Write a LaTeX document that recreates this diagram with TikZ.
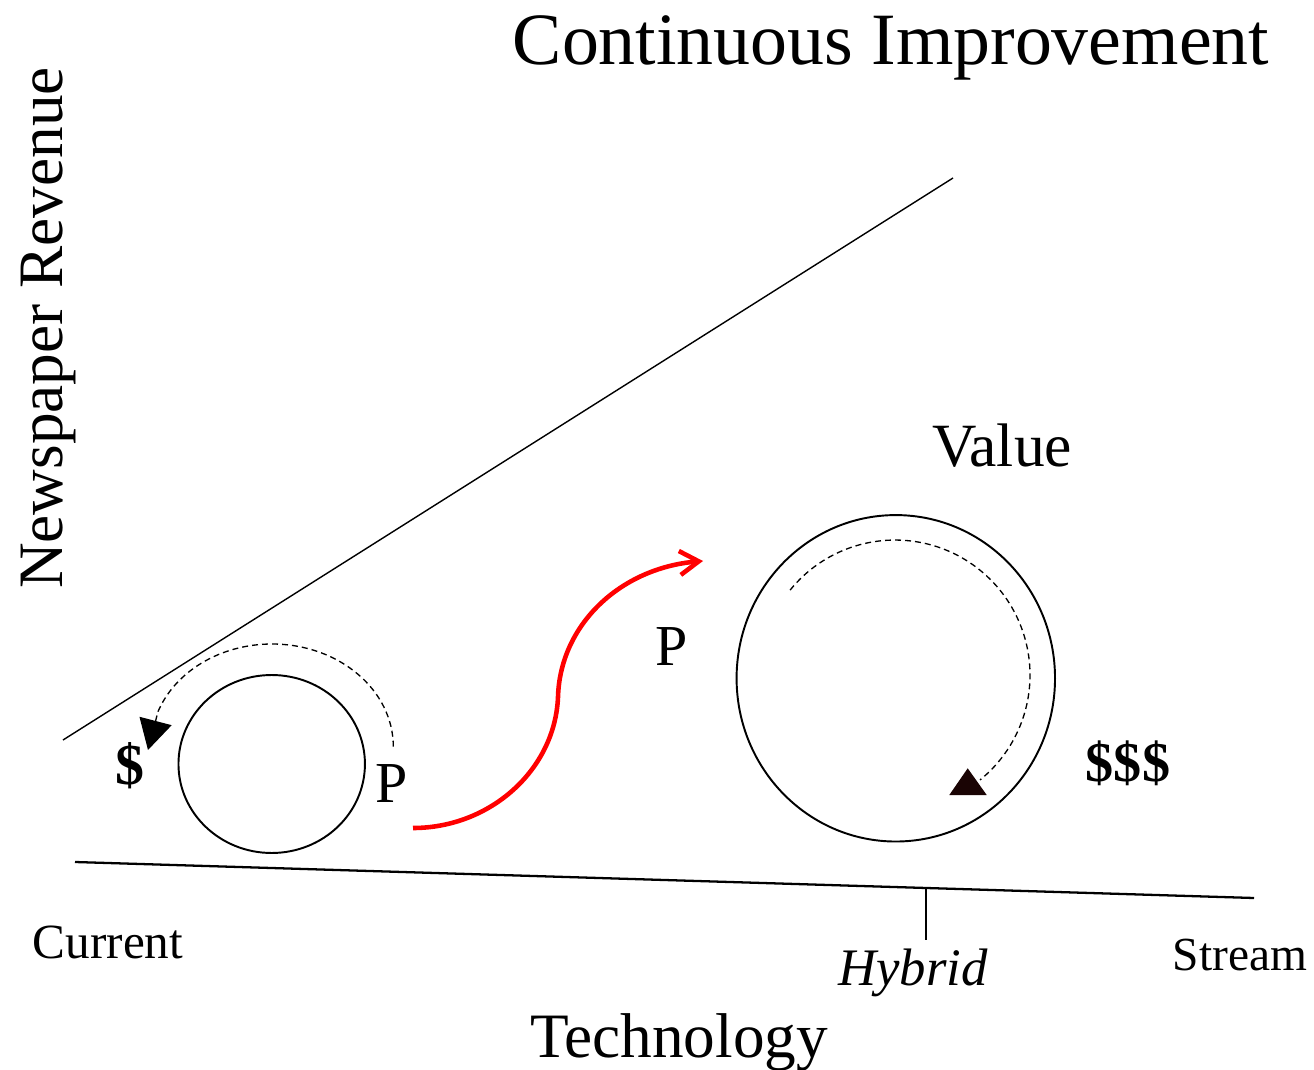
\documentclass[tikz,border=0pt]{standalone}
\usepackage{fontspec}
\setmainfont{Liberation Serif}
\usepackage{tikz}
\usetikzlibrary{arrows.meta,shapes.geometric}
\definecolor{tipdark}{RGB}{26,4,4}

\begin{document}
\begin{tikzpicture}[x=0.02cm,y=-0.02cm,
  ring/.style={ellipse,draw,line width=1.1pt,inner sep=0pt,outer sep=0pt},
  loopline/.style={dash pattern=on 3.4pt off 2.3pt,line width=0.75pt},
  lab/.style={inner sep=0pt,anchor=base},
  lab-huge/.style={lab,font=\fontsize{42}{46}\selectfont},
  lab-big/.style={lab,font=\fontsize{36}{40}\selectfont},
  lab-mid/.style={lab,font=\fontsize{33}{37}\selectfont},
  lab-small/.style={lab,font=\fontsize{28}{32}\selectfont},
  cash/.style={inner sep=0pt,font=\fontsize{33}{37}\selectfont\bfseries}]
\useasboundingbox (0,0) rectangle (1314,1070);
\node[lab-huge] (title) at (891,65) {Continuous Improvement};
\node[lab-big,rotate=90] (y-label) at (62,328) {Newspaper Revenue};
\node[lab-big] (x-label) at (679,1057) {Technology};
\node[lab-small] (x-current) at (108,958) {Current};
\node[lab-small,font=\fontsize{30}{34}\selectfont\itshape] (x-hybrid) at (913,985) {Hybrid};
\node[lab-small,font=\fontsize{27}{31}\selectfont] (x-stream) at (1240,970) {Stream};
\node[lab-mid,font=\fontsize{35}{39}\selectfont] (value) at (1002,467) {Value};
\coordinate (rise-a) at (63,740);
\coordinate (rise-b) at (953,178);
\coordinate (base-a) at (75,862);
\coordinate (base-b) at (1254,898);
\coordinate (tick-a) at (926,888);
\coordinate (tick-b) at (926,940);
\draw[line width=0.8pt] (rise-a) -- (rise-b);
\draw[line width=1.3pt] (base-a) -- (base-b);
\draw[line width=0.7pt] (tick-a) -- (tick-b);
\node[ring,minimum width=3.73cm,minimum height=3.56cm] (ring-small) at (271.7,764) {};
\node[ring,minimum width=6.37cm,minimum height=6.53cm] (ring-big) at (895.8,678.3) {};
\node[lab-mid] (p-small) at (392,802) {P};
\node[lab-mid] (p-big) at (672,665) {P};
\node[cash] (cash-small) at (130,766) {\$};
\node[cash,font=\fontsize{32}{36}\selectfont\bfseries] (cash-big) at (1128,763) {\$\$\$};
\coordinate (loop-small) at (393.3,746.7);
\coordinate (loop-small-end) at (148,750);
\coordinate (loop-big) at (790.1,590.1);
\draw[loopline,-{Triangle[length=0.6cm,width=0.66cm]}] (loop-small) arc[start angle=0,end angle=-160,x radius=121.3,y radius=102.7] -- (loop-small-end);
\draw[loopline] (loop-big) arc[start angle=-141,end angle=51,radius=135];
\fill[tipdark] (967.7,768.3) -- (949.3,795) -- (986.7,795) -- cycle;
\coordinate (jump-a) at (413,828);
\coordinate (jump-m) at (558,697);
\coordinate (jump-b) at (703,561);
\draw[red,line width=2.6pt,-{Straight Barb[length=0.38cm,width=0.48cm]}] (jump-a) .. controls (490,828) and (555,770) .. (jump-m) .. controls (560,625) and (620,568) .. (jump-b);
\end{tikzpicture}
\end{document}
